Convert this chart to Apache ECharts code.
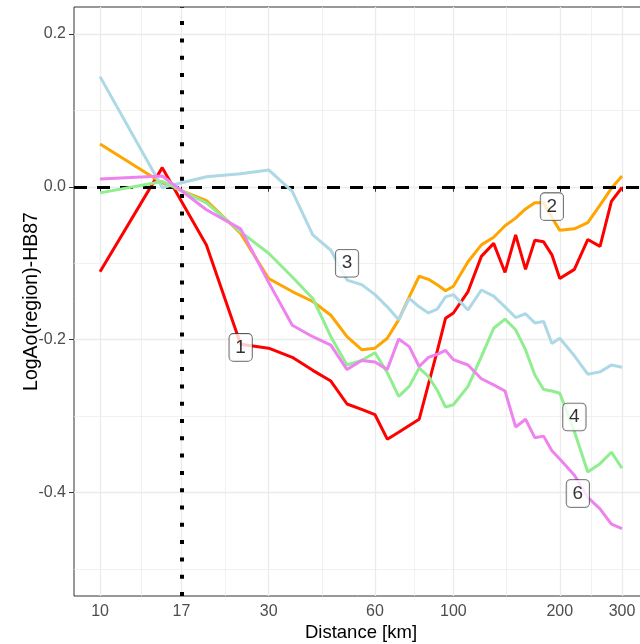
<!DOCTYPE html>
<html>
<head>
<meta charset="utf-8">
<script src="https://cdn.jsdelivr.net/npm/echarts@6/dist/echarts.min.js"></script>
<style>html,body{margin:0;padding:0;background:#fff}#c{width:640px;height:644px}</style>
</head>
<body>
<div id="c"></div>
<script>
// distances (km)
var distances = [10,15,20,25,30,35,40,45,50,55,60,65,70,75,80,85,90,95,100,110,120,130,140,150,160,170,180,190,200,220,240,260,280,300];
var region1 = [-0.111,0.025,-0.076,-0.206,-0.211,-0.223,-0.240,-0.254,-0.284,-0.291,-0.298,-0.330,-0.321,-0.312,-0.304,-0.258,-0.215,-0.172,-0.165,-0.137,-0.091,-0.074,-0.112,-0.063,-0.108,-0.070,-0.072,-0.089,-0.120,-0.108,-0.069,-0.078,-0.019,-0.001];
var region2 = [0.056,0.005,-0.018,-0.061,-0.120,-0.137,-0.150,-0.168,-0.196,-0.213,-0.211,-0.198,-0.174,-0.144,-0.117,-0.121,-0.128,-0.136,-0.130,-0.098,-0.076,-0.066,-0.051,-0.041,-0.029,-0.021,-0.021,-0.040,-0.057,-0.055,-0.047,-0.024,-0.002,0.014];
var region3 = [0.144,-0.001,0.013,0.017,0.022,-0.006,-0.063,-0.083,-0.122,-0.128,-0.141,-0.157,-0.174,-0.146,-0.157,-0.165,-0.160,-0.144,-0.141,-0.161,-0.135,-0.143,-0.157,-0.171,-0.166,-0.178,-0.176,-0.205,-0.198,-0.221,-0.245,-0.242,-0.233,-0.236];
var region4 = [-0.008,0.007,-0.021,-0.059,-0.087,-0.118,-0.146,-0.196,-0.233,-0.227,-0.217,-0.243,-0.274,-0.261,-0.237,-0.248,-0.266,-0.288,-0.285,-0.261,-0.222,-0.185,-0.173,-0.187,-0.213,-0.246,-0.265,-0.267,-0.270,-0.320,-0.373,-0.362,-0.347,-0.368];
var region6 = [0.010,0.014,-0.030,-0.055,-0.125,-0.181,-0.196,-0.207,-0.239,-0.227,-0.229,-0.239,-0.199,-0.209,-0.235,-0.223,-0.219,-0.214,-0.226,-0.233,-0.251,-0.259,-0.267,-0.314,-0.304,-0.328,-0.326,-0.345,-0.356,-0.377,-0.406,-0.421,-0.441,-0.447];

var seriesNames = ['1','2','3','4','6'];
var seriesColors = ['#FF0000','#FFA500','#ADD8E6','#90EE90','#EE82EE'];
var seriesValues = [region1, region2, region3, region4, region6];

// label annotations (data coordinates)
var labelNames = ['1','2','3','4','6'];
var labelX = [25, 190, 50, 220, 225];
var labelY = [-0.210, -0.026, -0.100, -0.301, -0.401];

var xMajor = [10,17,30,60,100,200,300];
var xMinor = [13.04,22.58,42.43,77.46,141.4,244.9];
var yMajor = [-0.4,-0.2,0,0.2];
var yMinor = [-0.5,-0.3,-0.1,0.1];
var refDistance = 17;
var refLevel = 0;

var xMin = 8.44, xMax = 355.4, yMin = -0.535, yMax = 0.235;
var font = "'Liberation Sans', Arial, Helvetica, sans-serif";

var series = seriesValues.map(function (vals, i) {
  return {
    name: seriesNames[i], type: 'line', showSymbol: false, symbol: 'none',
    data: distances.map(function (d, j) { return [d, vals[j]]; }),
    lineStyle: { color: seriesColors[i], width: 3 },
    itemStyle: { color: seriesColors[i] },
    z: 3 + i, silent: true, animation: false
  };
});

series.push({
  type: 'line', data: [], z: 20, silent: true, animation: false,
  markLine: {
    silent: true, symbol: ['none','none'], animation: false,
    label: { show: false },
    data: [
      { yAxis: refLevel, lineStyle: { type: [13, 10], color: '#000', width: 3, cap: 'butt' } },
      { xAxis: refDistance, lineStyle: { type: [4, 13.3], color: '#000', width: 4, cap: 'butt' } }
    ]
  }
});

series.push({
  type: 'scatter', z: 30, silent: true, animation: false,
  symbolSize: 0,
  data: labelNames.map(function (n, i) { return { value: [labelX[i], labelY[i]], name: n }; }),
  label: {
    show: true, position: 'inside', formatter: function (p) { return p.name; },
    fontFamily: font, fontSize: 19, color: '#000', lineHeight: 20,
    backgroundColor: '#fff', borderColor: '#333', borderWidth: 0.8, borderRadius: 4,
    padding: [4, 6, 3, 6]
  }
});

var chart = echarts.init(document.getElementById('c'), null, { renderer: 'canvas' });
chart.setOption({
  animation: false,
  backgroundColor: '#fff',
  grid: { left: 74, top: 7, width: 574, height: 589, show: true, borderColor: '#333', borderWidth: 1, backgroundColor: '#fff', containLabel: false, outerBoundsMode: 'none' },
  xAxis: [{
    type: 'log', logBase: 10, min: xMin, max: xMax,
    name: 'Distance [km]', nameLocation: 'middle', nameGap: 27, nameMoveOverlap: false,
    nameTextStyle: { fontFamily: font, fontSize: 18.5, color: '#000' },
    axisLine: { show: false },
    axisTick: { show: true, customValues: xMajor, length: 5, lineStyle: { color: '#333', width: 1 } },
    axisLabel: { customValues: xMajor, fontFamily: font, fontSize: 16, color: '#4d4d4d', margin: 8,
      formatter: function (v) { return String(Math.round(v)); } },
    splitLine: { show: true, lineStyle: { color: '#ebebeb', width: 1.3 } }
  }, {
    type: 'log', logBase: 10, min: xMin, max: xMax, position: 'top',
    axisLine: { show: false }, axisLabel: { show: false },
    axisTick: { show: false, customValues: xMinor },
    splitLine: { show: true, lineStyle: { color: '#ebebeb', width: 0.7 } }
  }],
  yAxis: [{
    type: 'value', min: yMin, max: yMax,
    name: 'LogAo(region)-HB87', nameLocation: 'middle', nameGap: 32, nameRotate: 90, nameMoveOverlap: false,
    nameTextStyle: { fontFamily: font, fontSize: 19.5, color: '#000' },
    axisLine: { show: false },
    axisTick: { show: true, customValues: yMajor, length: 5, lineStyle: { color: '#333', width: 1 } },
    axisLabel: { customValues: yMajor, fontFamily: font, fontSize: 16, color: '#4d4d4d', margin: 8,
      formatter: function (v) { return v.toFixed(1); } },
    splitLine: { show: true, lineStyle: { color: '#ebebeb', width: 1.3 } }
  }, {
    type: 'value', min: yMin, max: yMax, position: 'right',
    axisLine: { show: false }, axisLabel: { show: false },
    axisTick: { show: false, customValues: yMinor },
    splitLine: { show: true, lineStyle: { color: '#ebebeb', width: 0.7 } }
  }],
  series: series
});
</script>
</body>
</html>
